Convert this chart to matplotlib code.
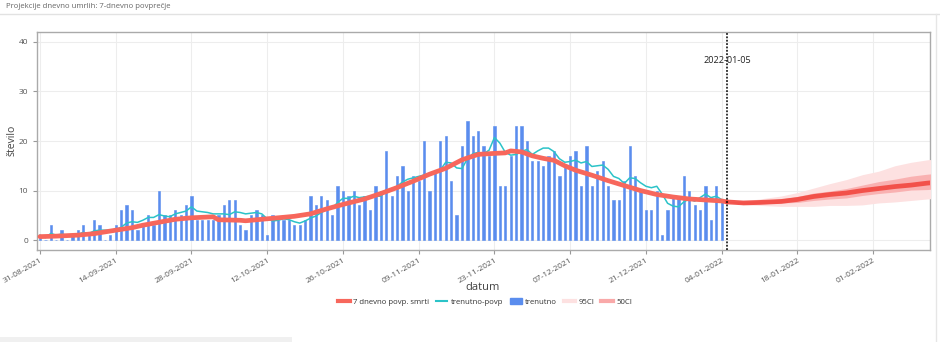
import matplotlib
matplotlib.use("Agg")
import matplotlib.pyplot as plt
import matplotlib.dates as mdates
from matplotlib.lines import Line2D
from matplotlib.patches import Patch, Rectangle
import pandas as pd

plt.rcParams['font.family'] = ['Open Sans', 'DejaVu Sans']

# ---------------- data ----------------
bar_start = "2021-08-31"
trenutno = [1, 0, 3, 0, 2, 0, 1, 2, 3, 1, 4, 3, 0, 1, 3, 6, 7, 6, 2, 3,
            5, 3, 10, 5, 5, 6, 5, 7, 9, 4, 4, 4, 4, 5, 7, 8, 8, 3, 2, 5,
            6, 5, 1, 5, 4, 4, 4, 3, 3, 4, 9, 7, 9, 8, 5, 11, 10, 9, 10, 7,
            9, 6, 11, 10, 18, 9, 13, 15, 10, 13, 12, 20, 10, 14, 20, 21, 12, 5, 19, 24,
            21, 22, 19, 17, 23, 11, 11, 17, 23, 23, 20, 16, 16, 15, 17, 18, 13, 15, 17, 18,
            11, 19, 11, 14, 16, 11, 8, 8, 12, 19, 13, 10, 6, 6, 10, 1, 6, 9, 9, 13,
            10, 7, 6, 11, 4, 11, 8]

trenutno_povp = [1.0, 0.5, 1.33, 1.0, 1.2, 1.0, 1.0, 1.14, 1.57, 1.29,
                 1.86, 2.0, 2.0, 2.0, 2.14, 2.57, 3.43, 3.71, 3.57, 4.0,
                 4.57, 4.57, 5.14, 4.86, 4.71, 5.29, 5.57, 5.86, 6.71, 5.86,
                 5.71, 5.57, 5.29, 5.29, 5.29, 5.14, 5.71, 5.57, 5.29, 5.43,
                 5.57, 5.29, 4.29, 3.86, 4.0, 4.29, 4.14, 3.71, 3.43, 3.86,
                 4.43, 4.86, 5.57, 6.14, 6.43, 7.57, 8.43, 8.43, 8.86, 8.57,
                 8.71, 8.86, 8.86, 8.86, 10.14, 10.0, 10.86, 11.71, 12.29, 12.57,
                 12.86, 13.14, 13.29, 13.43, 14.14, 15.71, 15.57, 14.57, 14.43, 16.43,
                 17.43, 17.71, 17.43, 18.14, 20.71, 19.57, 17.71, 17.14, 17.29, 17.86,
                 18.29, 17.29, 18.0, 18.57, 18.57, 17.86, 16.43, 15.71, 15.86, 16.14,
                 15.57, 15.86, 14.86, 15.0, 15.14, 14.29, 12.86, 12.43, 11.43, 12.57,
                 12.43, 11.57, 10.86, 10.57, 10.86, 9.29, 7.43, 6.86, 6.71, 7.71,
                 8.29, 7.86, 8.57, 9.29, 8.57, 8.86, 8.14]

red_hist_dates = ["2021-08-31", "2021-09-03", "2021-09-07", "2021-09-10", "2021-09-14",
                  "2021-09-17", "2021-09-19", "2021-09-22", "2021-09-25", "2021-09-28",
                  "2021-10-02", "2021-10-03", "2021-10-07", "2021-10-08", "2021-10-11",
                  "2021-10-14", "2021-10-17", "2021-10-20", "2021-10-23", "2021-10-26",
                  "2021-10-30", "2021-11-02", "2021-11-05", "2021-11-08", "2021-11-11",
                  "2021-11-14", "2021-11-17", "2021-11-20", "2021-11-23", "2021-11-25",
                  "2021-11-26", "2021-11-28", "2021-11-30", "2021-12-02", "2021-12-04",
                  "2021-12-06", "2021-12-08", "2021-12-11", "2021-12-14", "2021-12-17",
                  "2021-12-20", "2021-12-23", "2021-12-26", "2021-12-29", "2022-01-01",
                  "2022-01-04", "2022-01-05"]
red_hist = [0.7, 0.8, 1.0, 1.3, 2.0, 2.5, 3.0, 3.6, 4.2, 4.5,
            4.7, 4.1, 4.0, 3.9, 4.2, 4.5, 4.8, 5.3, 6.3, 7.2,
            8.3, 9.4, 10.6, 11.9, 13.3, 14.5, 16.2, 17.3, 17.5, 17.6,
            18.0, 17.8, 17.0, 16.5, 16.1, 15.0, 14.1, 13.1, 12.0, 11.0,
            10.0, 9.2, 8.7, 8.3, 8.1, 7.9, 7.7]

fc_dates = ["2022-01-05", "2022-01-08", "2022-01-11", "2022-01-15", "2022-01-18",
            "2022-01-21", "2022-01-24", "2022-01-27", "2022-01-30", "2022-02-02",
            "2022-02-05", "2022-02-08", "2022-02-11", "2022-02-12"]
fc_mean = [7.7, 7.5, 7.6, 7.8, 8.2, 8.8, 9.2, 9.5, 10.0, 10.4, 10.8, 11.1, 11.5, 11.6]
ci95_lo = [7.7, 7.1, 7.0, 6.8, 6.8, 6.8, 7.0, 7.0, 7.1, 7.5, 7.7, 8.0, 8.3, 8.4]
ci95_hi = [7.7, 7.9, 8.3, 8.9, 9.6, 10.5, 11.4, 12.2, 13.2, 13.9, 15.0, 15.7, 16.2, 16.3]
ci50_lo = [7.7, 7.3, 7.3, 7.5, 7.6, 8.0, 8.3, 8.5, 9.0, 9.4, 9.7, 10.1, 10.2, 10.3]
ci50_hi = [7.7, 7.7, 7.9, 8.3, 8.8, 9.5, 9.9, 10.4, 11.1, 11.8, 12.3, 12.9, 13.3, 13.4]

marker_date = "2022-01-05"
marker_label = "2022-01-05"
title = "Projekcije dnevno umrlih: 7-dnevno povprečje"

# ---------------- styling ----------------
C_RED = "#F7675C"
C_CYAN = "#2BC3C8"
C_BLUE = "#5A8DEE"
C_95 = "#FDE1E1"
C_50 = "#F9A9A9"
C_GRID = "#EDEDED"
C_TXT = "#555555"

W, H = 940, 342
fig = plt.figure(figsize=(W / 100, H / 100), dpi=100)
fig.patch.set_facecolor("white")

L, R, T, B = 37, 930, 32, 250
ax = fig.add_axes([L / W, 1 - B / H, (R - L) / W, (B - T) / H])

bar_dates = pd.date_range(bar_start, periods=len(trenutno), freq="D")
ax.bar(bar_dates, trenutno, width=0.42, color=C_BLUE, edgecolor=C_BLUE,
       linewidth=0.4, zorder=2)
ax.plot(bar_dates, trenutno_povp, color=C_CYAN, lw=1.1, zorder=4)

fcd = pd.to_datetime(fc_dates)
ax.fill_between(fcd, ci95_lo, ci95_hi, color=C_95, lw=0, zorder=3)
ax.fill_between(fcd, ci50_lo, ci50_hi, color=C_50, lw=0, alpha=0.85, zorder=3)

ax.plot(pd.to_datetime(red_hist_dates), red_hist, color=C_RED, lw=3.4,
        solid_capstyle="round", zorder=5)
ax.plot(fcd, fc_mean, color="#F2473F", lw=3.4, solid_capstyle="round",
        alpha=0.9, zorder=5)

md = pd.Timestamp(marker_date)
ax.axvline(md, color="black", lw=1.1, ls=(0, (1.2, 1.0)), zorder=6)
ax.text(md, 36.2, marker_label, ha="center", va="center", fontsize=6.6,
        color="#222222", zorder=7)

# axes
x0 = mdates.date2num(pd.Timestamp(bar_start)) - 0.55
ax.set_xlim(x0, x0 + 165.05)
ax.set_ylim(-2.0, 42.0)
ax.set_yticks([0, 10, 20, 30, 40])
ticks = pd.date_range(bar_start, "2022-02-10", freq="14D")
ax.set_xticks(ticks)
ax.set_xticklabels([t.strftime("%d-%m-%Y") for t in ticks], rotation=30,
                   ha="right", rotation_mode="anchor")
ax.tick_params(axis="both", labelsize=6, colors="#999999", labelcolor=C_TXT,
               length=3, width=0.8)
ax.tick_params(axis="x", pad=2)
ax.grid(True, color=C_GRID, lw=0.8, zorder=0)
ax.set_axisbelow(True)
for s in ax.spines.values():
    s.set_color("#AAAAAA")
    s.set_linewidth(1.0)

fig.text(12 / W, 1 - 140 / H, "število", rotation=90, ha="center",
         va="center", fontsize=7.5, color="#444444")
fig.text(483 / W, 1 - 287 / H, "datum", ha="center", va="center",
         fontsize=8, color="#444444")

# header
fig.text(6 / W, 1 - 6 / H, title, ha="left", va="center", fontsize=5.6,
         color="#666666")
fig.add_artist(Line2D([0, 1], [1 - 13.5 / H] * 2, color="#E2E2E2", lw=1.0))
fig.add_artist(Line2D([936 / W] * 2, [1 - 14 / H, 0], color="#E6E6E6", lw=1.0))
fig.add_artist(Rectangle((0, 0), 292 / W, 5 / H, transform=fig.transFigure,
                         color="#F0F0F0", lw=0))

handles = [
    Line2D([], [], color=C_RED, lw=3.0),
    Line2D([], [], color=C_CYAN, lw=1.5),
    Patch(color=C_BLUE),
    Line2D([], [], color=C_95, lw=3.0),
    Line2D([], [], color=C_50, lw=3.0),
]
labels = ["7 dnevno povp. smrti", "trenutno-povp", "trenutno", "95CI", "50CI"]
fig.legend(handles, labels, loc="center", bbox_to_anchor=(485 / W, 1 - 302 / H),
           ncol=5, frameon=False, fontsize=5.6, handlelength=1.5,
           handletextpad=0.4, columnspacing=0.9, labelcolor="#333333",
           handleheight=0.7)

fig.savefig("out.png", dpi=100)
